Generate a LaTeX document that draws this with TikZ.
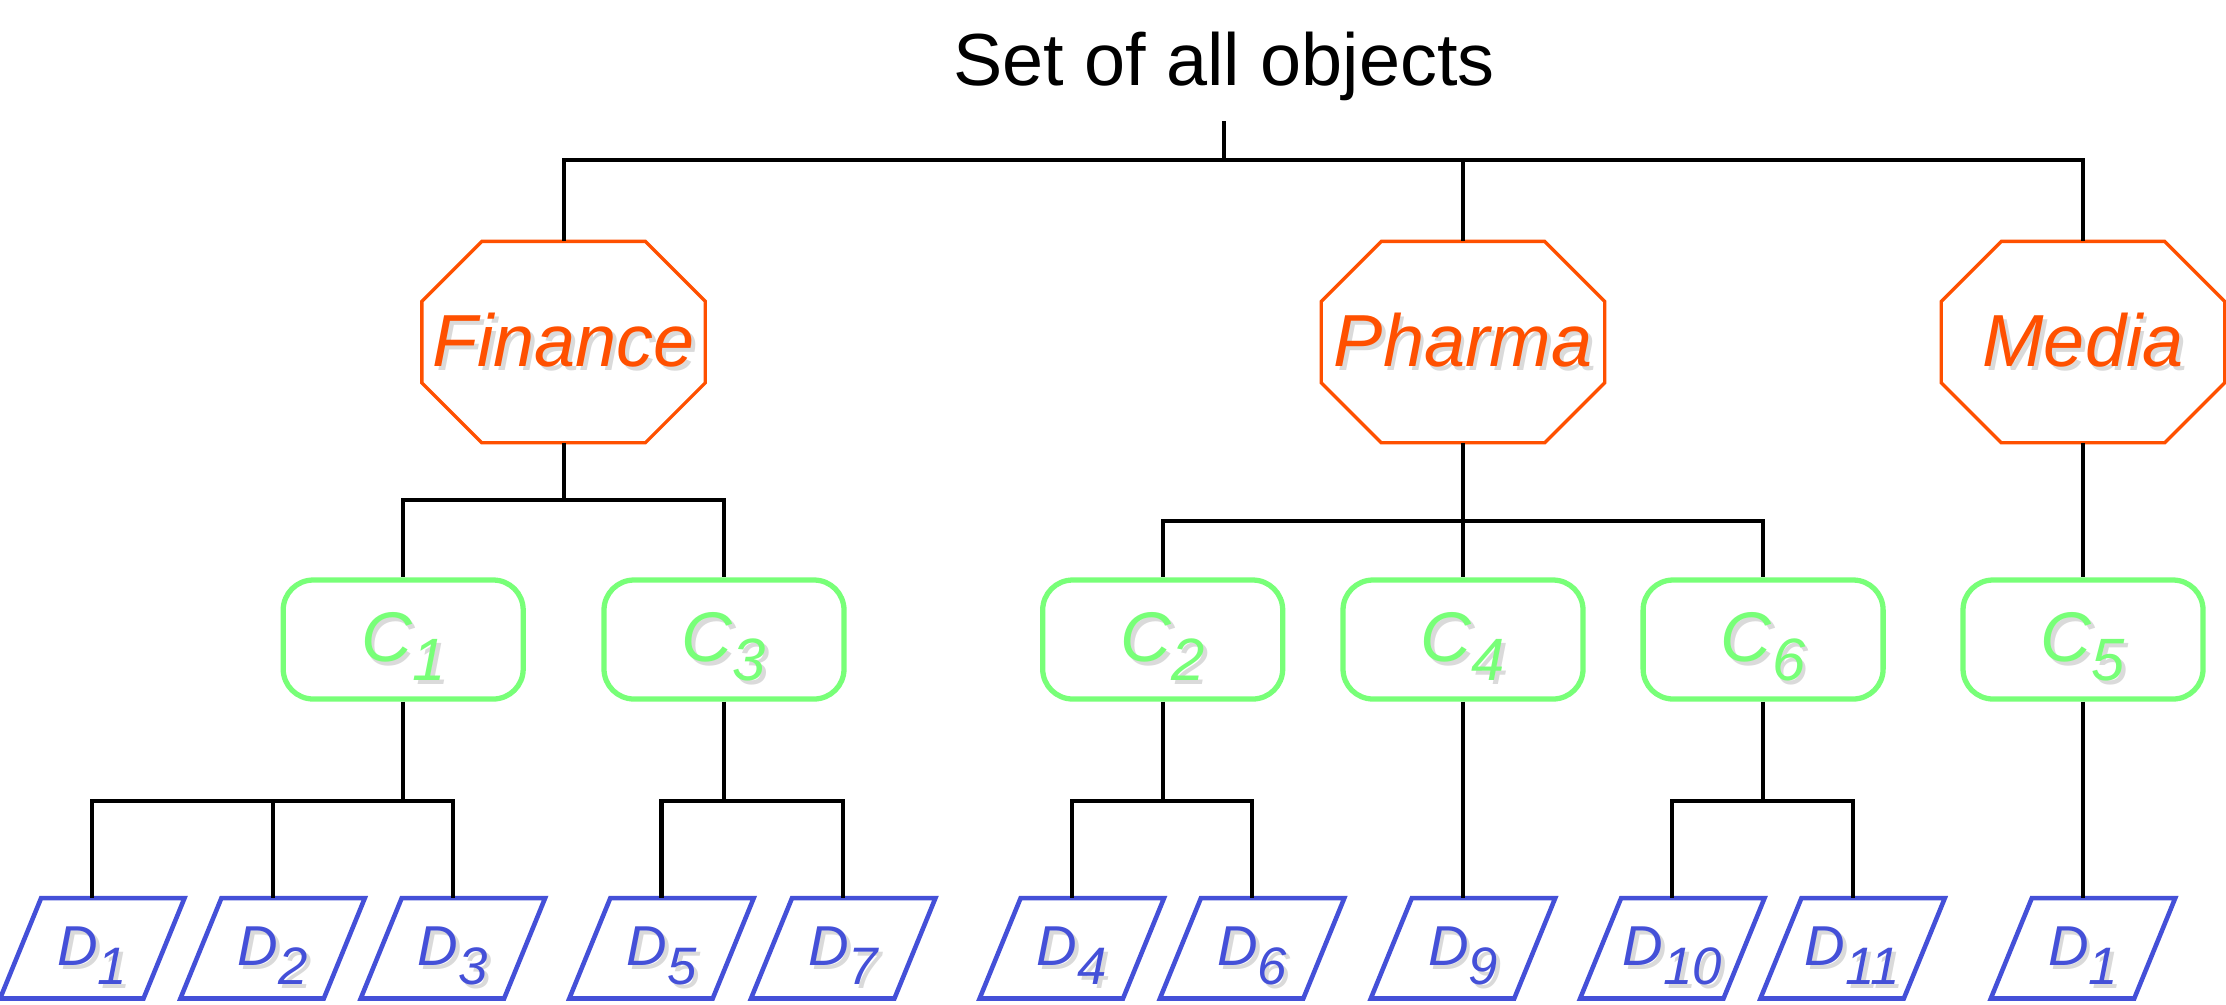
\documentclass[tikz,border=0pt]{standalone}
\usepackage{fontspec}
\setmainfont{Liberation Sans}
\usetikzlibrary{positioning,calc}

\definecolor{secorange}{RGB}{255,80,0}
\definecolor{compgreen}{RGB}{120,255,120}
\definecolor{docblue}{RGB}{68,80,216}
\definecolor{shadowgray}{RGB}{218,218,218}

% text with a soft grey drop shadow
\newcommand{\shadowed}[1]{\rlap{\kern1.1pt\raisebox{-1.1pt}{\color{shadowgray}#1}}#1}
\newcommand{\clab}[1]{\shadowed{\textit{C}\raisebox{-5.4pt}[0pt][0pt]{\fontsize{17}{17}\selectfont\itshape #1}}}
\newcommand{\dlab}[1]{\shadowed{\textit{D}\raisebox{-5.4pt}[0pt][0pt]{\fontsize{15}{15}\selectfont\itshape #1}}}

\tikzset{
  link/.style={line width=1.15pt, black},
  titlebox/.style={inner sep=0.2cm, font=\fontsize{21}{25}\selectfont},
  secbox/.style={rectangle, minimum width=2.82cm, minimum height=2.0cm,
    inner sep=0pt, text=secorange, font=\fontsize{21}{25}\selectfont\itshape},
  secedge/.style={draw=secorange, line width=0.95pt, line join=miter},
  compbox/.style={rectangle, rounded corners=0.3cm, draw=compgreen, line width=1.5pt,
    minimum width=2.4cm, minimum height=1.19cm, inner sep=0pt, text=compgreen,
    font=\fontsize{20}{24}\selectfont},
  docbox/.style={rectangle, minimum width=1.83cm, minimum height=0.99cm, inner sep=0pt,
    text=docblue, font=\fontsize{16}{20}\selectfont},
  docedge/.style={draw=docblue, line width=1.3pt, line join=miter},
}

\begin{document}
\begin{tikzpicture}
  \useasboundingbox (0,0) rectangle (22.26,-10.04);

  % Root
  \node[titlebox, anchor=base] (root) at (12.24,-0.85) {Set of all objects};

  % Sectors
  \node[secbox] (fin) at (5.636,-3.421) {\shadowed{Finance}};
  \node[secbox] (pha) at (14.63,-3.421) {\shadowed{Pharma}};
  \node[secbox] (med) at (20.83,-3.421) {\shadowed{Media}};

  % Octagon outlines
  \foreach \s in {fin,pha,med}
    \draw[secedge] ([xshift=0.6cm]\s.north west) -- ([xshift=-0.6cm]\s.north east)
      -- ([yshift=-0.6cm]\s.north east) -- ([yshift=0.6cm]\s.south east)
      -- ([xshift=-0.6cm]\s.south east) -- ([xshift=0.6cm]\s.south west)
      -- ([yshift=0.6cm]\s.south west) -- ([yshift=-0.6cm]\s.north west) -- cycle;

  % Companies
  \node[compbox] (c1) at (4.032,-6.395) {\clab{1}};
  \node[compbox] (c3) at (7.240,-6.395) {\clab{3}};
  \node[compbox] (c2) at (11.627,-6.395) {\clab{2}};
  \node[compbox] (c4) at (14.63,-6.395) {\clab{4}};
  \node[compbox] (c6) at (17.631,-6.395) {\clab{6}};
  \node[compbox] (c5) at (20.83,-6.395) {\clab{5}};

  % Documents
  \node[docbox] (d1) at (0.923,-9.483) {\dlab{1}};
  \node[docbox] (d2) at (2.726,-9.483) {\dlab{2}};
  \node[docbox] (d3) at (4.529,-9.483) {\dlab{3}};
  \node[docbox] (d5) at (6.615,-9.483) {\dlab{5}};
  \node[docbox] (d7) at (8.432,-9.483) {\dlab{7}};
  \node[docbox] (d4) at (10.718,-9.483) {\dlab{4}};
  \node[docbox] (d6) at (12.521,-9.483) {\dlab{6}};
  \node[docbox] (d9) at (14.63,-9.483) {\dlab{9}};
  \node[docbox] (d10) at (16.723,-9.483) {\dlab{10}};
  \node[docbox] (d11) at (18.526,-9.483) {\dlab{11}};
  \node[docbox] (d1m) at (20.83,-9.483) {\dlab{1}};

  % Parallelogram outlines
  \foreach \d in {d1,d2,d3,d5,d7,d4,d6,d9,d10,d11,d1m}
    \draw[docedge] ([xshift=0.41cm]\d.north west) -- (\d.north east)
      -- ([xshift=-0.41cm]\d.south east) -- (\d.south west) -- cycle;

  % Branch points
  \coordinate (rootbar) at (12.24,-1.604);
  \coordinate (finbar) at (5.636,-4.997);
  \coordinate (phabar) at (14.63,-5.21);
  \coordinate (c1bar) at (4.032,-8.006);
  \coordinate (c3bar) at (7.240,-8.006);
  \coordinate (c2bar) at (11.627,-8.006);
  \coordinate (c6bar) at (17.631,-8.006);

  % Connectors
  \draw[link] (root.south) -- (rootbar);
  \foreach \s in {fin,pha,med}
    \draw[link] (rootbar) -| (\s.north);
  \draw[link] (fin.south) -- (finbar);
  \foreach \c in {c1,c3}
    \draw[link] (finbar) -| (\c.north);
  \draw[link] (pha.south) -- (c4.north);
  \foreach \c in {c2,c6}
    \draw[link] (phabar) -| (\c.north);
  \draw[link] (med.south) -- (c5.north);
  \draw[link] (c1.south) -- (c1bar);
  \foreach \d in {d1,d2,d3}
    \draw[link] (c1bar) -| (\d.north);
  \draw[link] (c3.south) -- (c3bar);
  \foreach \d in {d5,d7}
    \draw[link] (c3bar) -| (\d.north);
  \draw[link] (c2.south) -- (c2bar);
  \foreach \d in {d4,d6}
    \draw[link] (c2bar) -| (\d.north);
  \draw[link] (c4.south) -- (d9.north);
  \draw[link] (c6.south) -- (c6bar);
  \foreach \d in {d10,d11}
    \draw[link] (c6bar) -| (\d.north);
  \draw[link] (c5.south) -- (d1m.north);
\end{tikzpicture}
\end{document}
